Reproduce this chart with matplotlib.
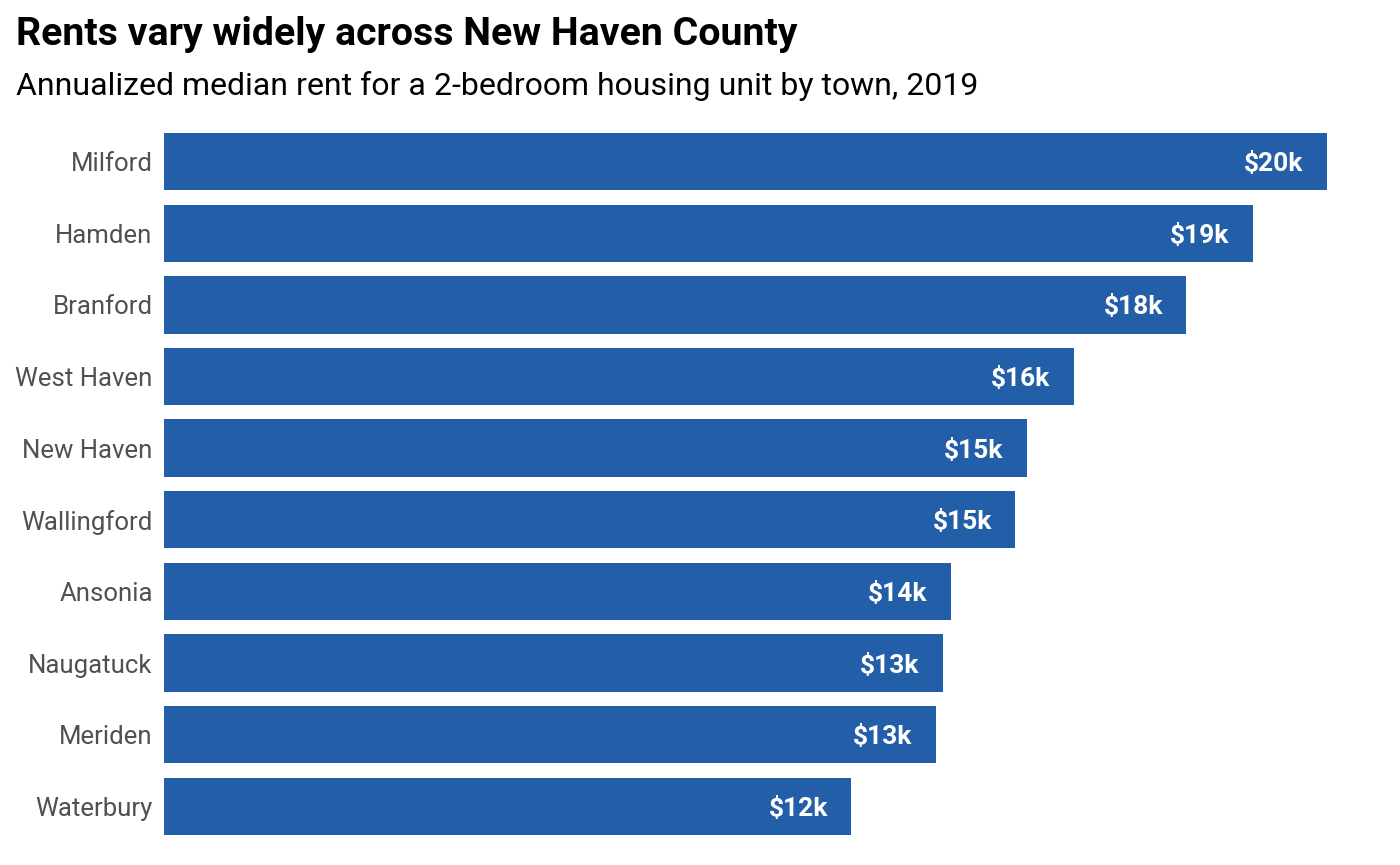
import matplotlib.pyplot as plt

towns = ["Milford", "Hamden", "Branford", "West Haven", "New Haven",
         "Wallingford", "Ansonia", "Naugatuck", "Meriden", "Waterbury"]
rent = [20000, 18720, 17580, 15640, 14840, 14640, 13540, 13400, 13280, 11820]
labels = ["$20k", "$19k", "$18k", "$16k", "$15k", "$15k", "$14k", "$13k", "$13k", "$12k"]

plt.rcParams["font.family"] = ["Roboto", "DejaVu Sans"]

fig = plt.figure(figsize=(14, 8.65), dpi=100)
ax = fig.add_axes([0.117, 0.0347, 0.831, 0.8116])

ypos = list(range(len(towns)))
ax.barh(ypos, rent, height=0.8, color="#235fa8")
# value labels inside the bar ends
for y, v, lab in zip(ypos, rent, labels):
    ax.annotate(lab, (v, y), xytext=(-17, 0), textcoords="offset points",
                ha="right", va="center_baseline", color="white", fontsize=19, fontweight="bold")

ax.set_xlim(0, max(rent))
ax.set_ylim(len(towns) - 0.6, -0.4)
ax.set_yticks(ypos)
ax.set_yticklabels(towns, fontsize=18.5, color="#505050")
ax.tick_params(axis="y", length=0, pad=8)
ax.set_xticks([])
for s in ax.spines.values():
    s.set_visible(False)

fig.text(0.0114, 0.960, "Rents vary widely across New Haven County",
         fontsize=28.3, fontweight="bold", va="center", ha="left")
fig.text(0.0114, 0.901, "Annualized median rent for a 2-bedroom housing unit by town, 2019",
         fontsize=23.0, va="center", ha="left")

fig.savefig("out.png")
